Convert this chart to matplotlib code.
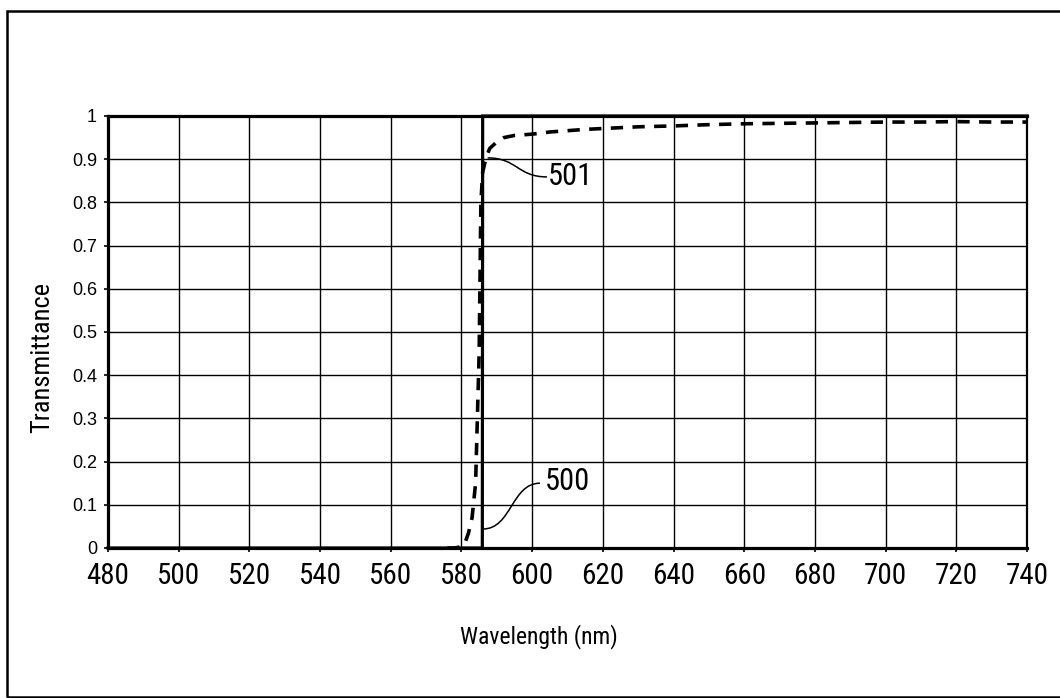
import numpy as np
import matplotlib
matplotlib.use("Agg")
import matplotlib.pyplot as plt
from matplotlib.path import Path
from matplotlib.patches import PathPatch, Rectangle
from matplotlib import font_manager

# Transmittance spectra of two filter edges
wavelength_ideal = [480, 585.9, 586.0, 740]
trans_ideal = [0.0, 0.0, 1.0, 1.0]

wavelength_real = [576, 578, 580, 581, 582, 583, 584, 585, 585.5, 586, 587,
                   588, 590, 592, 595, 600, 605, 610, 615, 620, 630, 640, 650,
                   660, 670, 680, 690, 700, 710, 720, 730, 740]
trans_real = [0.0, 0.0, 0.003, 0.012, 0.035, 0.07, 0.15, 0.45, 0.8, 0.87, 0.905,
              0.925, 0.94, 0.95, 0.955, 0.958, 0.963, 0.966, 0.969, 0.971, 0.975, 0.977,
              0.98, 0.982, 0.983, 0.984, 0.985, 0.986, 0.986, 0.987, 0.986, 0.986]

x_ticks = list(range(480, 741, 20))
y_ticks = [0, 0.1, 0.2, 0.3, 0.4, 0.5, 0.6, 0.7, 0.8, 0.9, 1]
y_tick_labels = ["0", "0.1", "0.2", "0.3", "0.4", "0.5", "0.6", "0.7", "0.8", "0.9", "1"]

# pick a condensed face if one is installed
installed = {f.name for f in font_manager.fontManager.ttflist}
condensed_choices = ["Liberation Sans Narrow", "Roboto Condensed", "Open Sans Condensed",
                     "DejaVu Sans Condensed"]
narrow_family = next((n for n in condensed_choices if n in installed), None)
if narrow_family is None:
    narrow = dict(family=["DejaVu Sans"], stretch="condensed")
    nscale = 0.85
else:
    narrow = dict(family=[narrow_family, "DejaVu Sans"])
    nscale = 1.0

fig = plt.figure(figsize=(10.6, 6.98), dpi=100)
fig.patch.set_facecolor("white")

# outer frame around the drawing
fig.patches.append(Rectangle((7 / 1060, 1 / 698), 1.2, 686 / 698,
                             transform=fig.transFigure, fill=False,
                             edgecolor="black", linewidth=1.8, clip_on=True))

ax = fig.add_axes([108 / 1060, 1 - 548 / 698, 919 / 1060, 432 / 698])
ax.set_xlim(480, 740)
ax.set_ylim(0, 1)
ax.set_xticks(x_ticks)
ax.set_xticklabels([str(t) for t in x_ticks], fontsize=21 * nscale, **narrow)
ax.set_yticks(y_ticks)
ax.set_yticklabels(y_tick_labels, family=["Liberation Sans", "DejaVu Sans"], fontsize=13)
ax.tick_params(axis="both", direction="out", length=3, width=1.2, color="black")
ax.tick_params(axis="x", pad=7)
ax.tick_params(axis="y", pad=5)
ax.grid(True, color="black", linewidth=1.0)
ax.set_axisbelow(True)

for side in ("left", "bottom", "top"):
    ax.spines[side].set_linewidth(2.3)
ax.spines["right"].set_linewidth(1.6)

ax.plot(wavelength_ideal, trans_ideal, color="black", linewidth=2.3,
        solid_joinstyle="miter", zorder=3, clip_on=False)
ax.plot(wavelength_real, trans_real, color="black", linewidth=2.6,
        linestyle=(0, (3.4, 2.6)), zorder=4)

ax.set_xlabel("Wavelength (nm)", fontsize=17 * nscale, va="center", **narrow)
ax.xaxis.set_label_coords(0.5 + (538 - 567) / 919, (548 - 637) / 432)
ax.set_ylabel("Transmittance", fontsize=19 * nscale, va="center", **narrow)
ax.yaxis.set_label_coords((42 - 108) / 919, (548 - 357) / 432)


def leader(x0, y0, x1, y1):
    """S-shaped leader with horizontal ends."""
    xm = (x0 + x1) / 2
    verts = [(x0, y0), (xm, y0), (xm, y1), (x1, y1)]
    codes = [Path.MOVETO, Path.CURVE4, Path.CURVE4, Path.CURVE4]
    ax.add_patch(PathPatch(Path(verts, codes), fill=False, edgecolor="black",
                           linewidth=1.1, zorder=5))


# reference numeral 501 points at the measured curve
x501 = 587.4
y501 = float(np.interp(x501, wavelength_real, trans_real)) - 0.01
leader(x501, y501, 604.2, 0.859)
ax.text(604.4, 0.861, "501", fontsize=22 * nscale, ha="left", va="center", **narrow)

# reference numeral 500 points at the ideal edge
x500 = 586.1
leader(x500, 0.044, 602.2, 0.150)
ax.text(603.6, 0.153, "500", fontsize=22 * nscale, ha="left", va="center", **narrow)

fig.savefig("out.png", dpi=100, facecolor="white")
